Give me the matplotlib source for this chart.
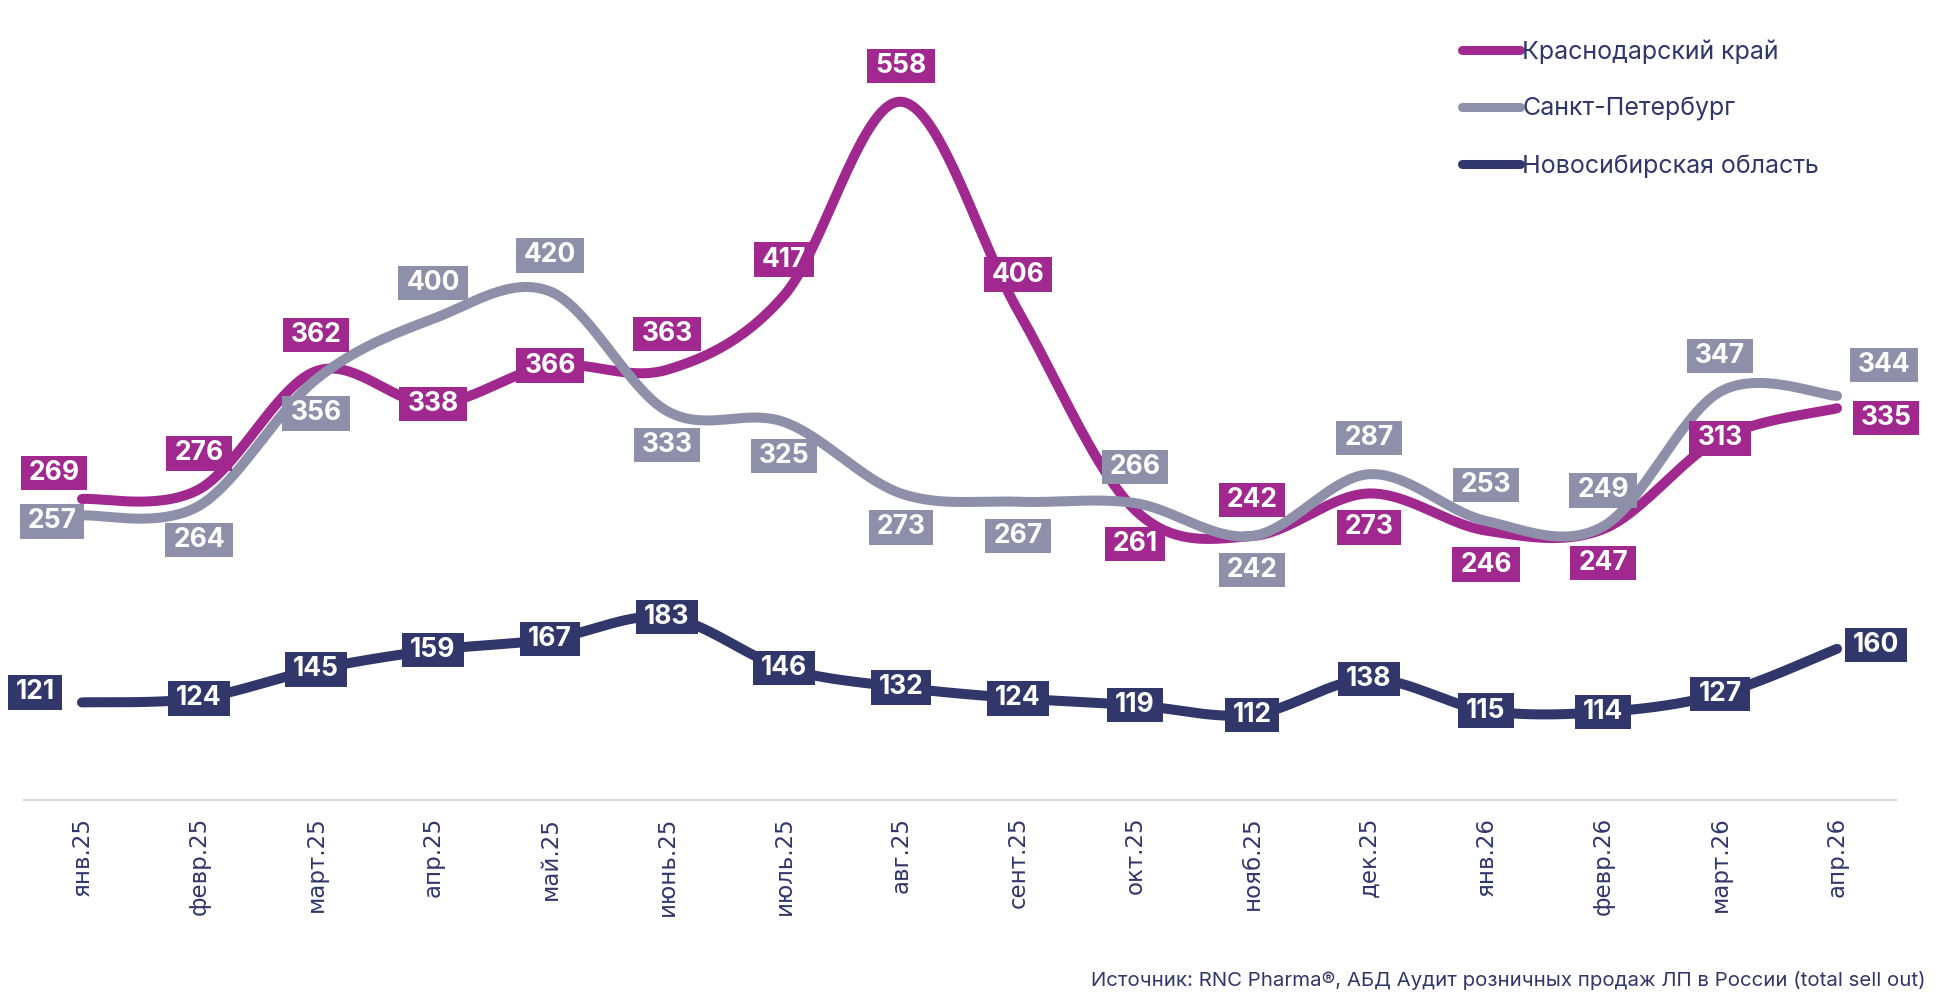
import numpy as np
import matplotlib
matplotlib.use("Agg")
import matplotlib.pyplot as plt
from matplotlib.path import Path

# ---------------- data ----------------
months = ['янв.25', 'февр.25', 'март.25', 'апр.25', 'май.25', 'июнь.25', 'июль.25',
          'авг.25', 'сент.25', 'окт.25', 'нояб.25', 'дек.25', 'янв.26', 'февр.26',
          'март.26', 'апр.26']
krasnodar = [269, 276, 362, 338, 366, 363, 417, 558, 406, 261, 242, 273, 246, 247, 313, 335]
spb = [257, 264, 356, 400, 420, 333, 325, 273, 267, 266, 242, 287, 253, 249, 347, 344]
novosib = [121, 124, 145, 159, 167, 183, 146, 132, 124, 119, 112, 138, 115, 114, 127, 160]
series_names = ['Краснодарский край', 'Санкт-Петербург', 'Новосибирская область']
source = 'Источник: RNC Pharma®, АБД Аудит розничных продаж ЛП в России (total sell out)'

# ---------------- styles ----------------
colors = ['#A0288F', '#8E90AA', '#31366B']
navy = '#31366B'
# label placement codes per point
place_kr = ['l1', 'a', 'a', 'c', 'c', 'a', 'a', 'a', 'a', 'b', 'a', 'b', 'b', 'b', 'c', 'r1']
place_sp = ['l2', 'b', 'b', 'a', 'a', 'b', 'b', 'b', 'b', 'a', 'b', 'a', 'a', 'a', 'a', 'r2']
place_nv = ['l3'] + ['c'] * 14 + ['r3']
offsets = {'a': (0, 36), 'b': (0, -34), 'c': (0, 0),
           'l1': (-28, 26), 'l2': (-30, -6), 'l3': (-47, 10),
           'r1': (49, -10), 'r2': (47, 31), 'r3': (39, 4)}


def smooth(xs, ys, n=40):
    """Catmull-Rom style Bezier smoothing (like spreadsheet smoothed lines)."""
    P = np.column_stack([xs, ys]).astype(float)
    m = len(P)
    out = []
    for i in range(m - 1):
        p0 = P[i - 1] if i > 0 else P[i]
        p1 = P[i]
        p2 = P[i + 1]
        p3 = P[i + 2] if i + 2 < m else P[i + 1]
        c1 = p1 + (p2 - p0) / 6.0
        c2 = p2 - (p3 - p1) / 6.0
        t = np.linspace(0, 1, n, endpoint=(i == m - 2))[:, None]
        b = ((1 - t) ** 3) * p1 + 3 * ((1 - t) ** 2) * t * c1 + 3 * (1 - t) * t ** 2 * c2 + t ** 3 * p2
        out.append(b)
    out = np.vstack(out)
    return out[:, 0], out[:, 1]


def wide_box(x0, y0, width, height, mutation_size):
    padx = 0.30 * mutation_size
    pady = 0.16 * mutation_size
    x0, y0 = x0 - padx, y0 - pady
    x1, y1 = x0 + width + 2 * padx, y0 + height + 2 * pady
    return Path([(x0, y0), (x1, y0), (x1, y1), (x0, y1), (x0, y0)], closed=True)


W, H = 1946, 1006
fig = plt.figure(figsize=(W / 100, H / 100), dpi=100)
fig.patch.set_facecolor('white')
ax = fig.add_axes([23.5 / W, 206 / H, (1895.5 - 23.5) / W, (962 - 206) / H])
ax.set_xlim(-0.5, len(months) - 0.5)
ax.set_ylim(50, 600)

x = np.arange(len(months))
all_series = [krasnodar, spb, novosib]
places = [place_kr, place_sp, place_nv]

for vals, col, name in zip(all_series, colors, series_names):
    sx, sy = smooth(x, vals)
    ax.plot(sx, sy, color=col, lw=7.2, solid_capstyle='round', solid_joinstyle='round',
            label=name, zorder=2)

for vals, col, pl in zip(all_series, colors, places):
    for xi, v, p in zip(x, vals, pl):
        dx, dy = offsets[p]
        ax.annotate(str(v), (xi, v), xytext=(dx, dy), textcoords='offset pixels',
                    ha='center', va='center', fontsize=19, fontweight='bold',
                    family=['Inter', 'DejaVu Sans'], color='white', zorder=5,
                    bbox=dict(boxstyle=wide_box, fc=col, ec='none'))

for s in ['left', 'right', 'top']:
    ax.spines[s].set_visible(False)
ax.spines['bottom'].set_color('#D9D9D9')
ax.spines['bottom'].set_linewidth(1.6)
ax.set_yticks([])
ax.set_xticks(x)
ax.set_xticklabels(months, rotation=90, fontsize=16.5, color=navy,
                   family=['DejaVu Sans'], va='top')
ax.tick_params(axis='x', length=0, pad=12)

leg = ax.legend(loc='upper left', bbox_to_anchor=(1462 / W, 1 - 39 / H),
                bbox_transform=fig.transFigure, frameon=False, borderpad=0,
                borderaxespad=0, handlelength=2.3, handletextpad=0.1,
                labelspacing=1.33, prop={'family': ['Inter', 'DejaVu Sans'], 'size': 18},
                labelcolor=navy)
for h in leg.get_lines():
    h.set_linewidth(6.5)
    h.set_solid_capstyle('round')

fig.text(1926 / W, 1 - 980 / H, source, ha='right', va='center', fontsize=14.7,
         color=navy, family=['Inter', 'DejaVu Sans'])

fig.savefig('out.png', dpi=100, facecolor='white')
